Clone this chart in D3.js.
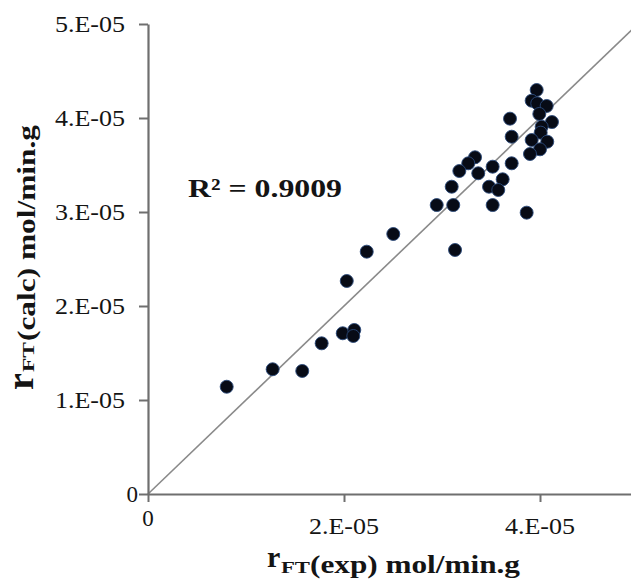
<!DOCTYPE html>
<html>
<head>
<meta charset="utf-8">
<script src="https://cdn.jsdelivr.net/npm/d3@7/dist/d3.min.js"></script>
<style>
  html, body { margin: 0; padding: 0; background: #ffffff; }
  svg { display: block; }
</style>
</head>
<body>
<svg id="chart" width="631" height="586" font-family="'Liberation Serif', serif"></svg>
<script>
// Experimental vs. calculated FT reaction rates (mol/min.g)
const rExp = [
  3.966e-5, 3.915e-5, 3.972e-5, 4.068e-5, 3.993e-5, 3.694e-5, 4.122e-5, 4.017e-5,
  4.007e-5, 3.711e-5, 3.915e-5, 4.074e-5, 4.000e-5, 3.898e-5, 3.337e-5, 3.268e-5,
  3.711e-5, 3.517e-5, 3.177e-5, 3.370e-5, 3.619e-5, 3.099e-5, 3.480e-5, 3.574e-5,
  2.946e-5, 3.115e-5, 3.517e-5, 3.864e-5, 2.503e-5, 2.232e-5, 3.133e-5, 2.028e-5,
  1.987e-5, 2.105e-5, 2.095e-5, 1.772e-5, 1.272e-5, 1.574e-5, 0.803e-5
];
const rCalc = [
  4.298e-5, 4.184e-5, 4.156e-5, 4.128e-5, 4.043e-5, 3.993e-5, 3.957e-5, 3.907e-5,
  3.844e-5, 3.801e-5, 3.766e-5, 3.748e-5, 3.667e-5, 3.617e-5, 3.582e-5, 3.518e-5,
  3.518e-5, 3.482e-5, 3.436e-5, 3.412e-5, 3.348e-5, 3.269e-5, 3.269e-5, 3.234e-5,
  3.074e-5, 3.074e-5, 3.074e-5, 2.993e-5, 2.766e-5, 2.578e-5, 2.596e-5, 2.266e-5,
  1.710e-5, 1.745e-5, 1.681e-5, 1.603e-5, 1.327e-5, 1.309e-5, 1.141e-5
];

const xTickValues = [0, 2e-5, 4e-5];
const xTickLabels = ["0", "2.E-05", "4.E-05"];
const yTickValues = [0, 1e-5, 2e-5, 3e-5, 4e-5, 5e-5];
const yTickLabels = ["0", "1.E-05", "2.E-05", "3.E-05", "4.E-05", "5.E-05"];

const rSquared = "0.9009";
const parity = [0, 5e-5];

const svg = d3.select("#chart");
const axisColor = "#6f6f6f";
const ink = "#141414";

const x = d3.scaleLinear().domain([0, 5e-5]).range([148, 638]);
const y = d3.scaleLinear().domain([0, 5e-5]).range([494, 24]);

// y = x parity line
svg.append("line")
  .attr("x1", x(parity[0])).attr("y1", y(parity[0]))
  .attr("x2", x(parity[1])).attr("y2", y(parity[1]))
  .attr("stroke", "#8a8a8a").attr("stroke-width", 1.6);

// axes (lines and ticks only; labels drawn separately)
const gx = svg.append("g").attr("transform", `translate(0,${y(0)})`)
  .call(d3.axisBottom(x).tickValues(xTickValues).tickSize(8).tickSizeOuter(0).tickFormat(""));
const gy = svg.append("g").attr("transform", `translate(${x(0)},0)`)
  .call(d3.axisLeft(y).tickValues(yTickValues).tickSize(9).tickSizeOuter(0).tickFormat(""));
[gx, gy].forEach(g => {
  g.selectAll("path.domain").attr("stroke", axisColor).attr("stroke-width", 2.2);
  g.selectAll(".tick line").attr("stroke", axisColor).attr("stroke-width", 2);
});

// tick labels
svg.append("g").attr("fill", ink).selectAll("text").data(yTickValues).join("text")
  .attr("x", (d, i) => i === 0 ? 138 : 125)
  .attr("y", d => y(d) + 8)
  .attr("text-anchor", "end")
  .attr("font-size", 23)
  .attr("textLength", (d, i) => i === 0 ? null : 70)
  .attr("lengthAdjust", "spacingAndGlyphs")
  .text((d, i) => yTickLabels[i]);

svg.append("g").attr("fill", ink).selectAll("text").data(xTickValues).join("text")
  .attr("x", d => x(d))
  .attr("y", (d, i) => i === 0 ? 526 : 534)
  .attr("text-anchor", "middle")
  .attr("font-size", 23)
  .attr("textLength", (d, i) => i === 0 ? null : 70)
  .attr("lengthAdjust", "spacingAndGlyphs")
  .text((d, i) => xTickLabels[i]);

// data points
svg.append("g").selectAll("circle").data(rExp).join("circle")
  .attr("cx", d => x(d))
  .attr("cy", (d, i) => y(rCalc[i]))
  .attr("r", 6.5)
  .attr("fill", "#070b16")
  .attr("stroke", "#2a4a7a")
  .attr("stroke-width", 0.9);

// R² annotation
svg.append("text")
  .attr("x", 188).attr("y", 197).attr("fill", ink)
  .attr("font-size", 26).attr("font-weight", "bold")
  .attr("textLength", 154).attr("lengthAdjust", "spacingAndGlyphs")
  .text("R² = " + rSquared);

// x-axis title
const xt = svg.append("g").attr("fill", ink).attr("font-weight", "bold");
xt.append("text").attr("x", 267).attr("y", 567)
  .attr("font-size", 30).text("r");
xt.append("text").attr("x", 281).attr("y", 573)
  .attr("font-size", 16)
  .attr("textLength", 29).attr("lengthAdjust", "spacingAndGlyphs").text("FT");
xt.append("text").attr("x", 310).attr("y", 573)
  .attr("font-size", 25)
  .attr("textLength", 210).attr("lengthAdjust", "spacingAndGlyphs").text("(exp) mol/min.g");

// y-axis title (rotated)
const yt = svg.append("g").attr("fill", ink).attr("font-weight", "bold");
yt.append("text").attr("transform", "translate(33,390) rotate(-90)")
  .attr("font-size", 38).text("r");
yt.append("text").attr("transform", "translate(34,372) rotate(-90)")
  .attr("font-size", 17)
  .attr("textLength", 30).attr("lengthAdjust", "spacingAndGlyphs").text("FT");
yt.append("text").attr("transform", "translate(35,341) rotate(-90)")
  .attr("font-size", 25)
  .attr("textLength", 216).attr("lengthAdjust", "spacingAndGlyphs").text("(calc) mol/min.g");
</script>
</body>
</html>
